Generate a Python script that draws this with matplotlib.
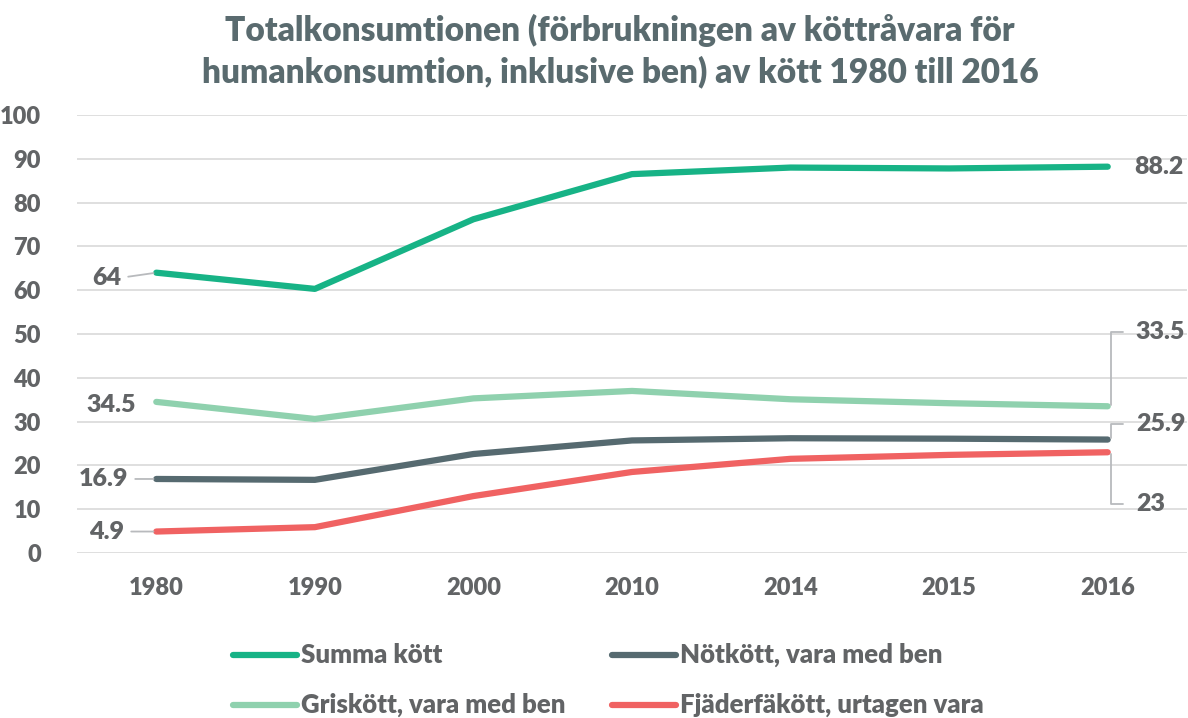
import matplotlib
matplotlib.use("Agg")
import matplotlib.pyplot as plt
from matplotlib.lines import Line2D

years = ["1980", "1990", "2000", "2010", "2014", "2015", "2016"]
summa = [64, 60.3, 76.2, 86.5, 88.0, 87.8, 88.2]
gris = [34.5, 30.6, 35.3, 37.0, 35.1, 34.2, 33.5]
not_ = [16.9, 16.7, 22.6, 25.7, 26.2, 26.1, 25.9]
fjader = [4.9, 5.9, 13.0, 18.5, 21.5, 22.4, 23.0]
series_names = ["Summa kött", "Nötkött, vara med ben", "Griskött, vara med ben", "Fjäderfäkött, urtagen vara"]
yticks = [0, 10, 20, 30, 40, 50, 60, 70, 80, 90, 100]

col_summa = "#17b386"
col_gris = "#8fd1ae"
col_not = "#566a70"
col_fj = "#f06262"
txt = "#626466"
title_col = "#5a6b6f"
grid_col = "#dcdcdc"
lead_col = "#b8babd"
W = 'heavy'

plt.rcParams['font.family'] = ['Lato', 'DejaVu Sans']

fig = plt.figure(figsize=(11.88, 7.18), dpi=100)
ax = fig.add_axes([77/1188, 1-553/718, 1110/1188, 438/718])

x = list(range(len(years)))
lw = 4.5
ax.plot(x, summa, color=col_summa, lw=lw, solid_capstyle='round', zorder=3)
ax.plot(x, gris, color=col_gris, lw=lw, solid_capstyle='round', zorder=3)
ax.plot(x, not_, color=col_not, lw=lw, solid_capstyle='round', zorder=3)
ax.plot(x, fjader, color=col_fj, lw=lw, solid_capstyle='round', zorder=3)

ax.set_xlim(-0.5, 6.5)
ax.set_ylim(0, 100)
ax.set_yticks(yticks)
ax.set_xticks(x)
ax.set_xticklabels(years)
ax.grid(axis='y', color=grid_col, lw=1.3)
ax.set_axisbelow(True)
for s in ax.spines.values():
    s.set_visible(False)
ax.tick_params(length=0, colors=txt, labelsize=17)
ax.tick_params(axis='y', pad=26)
ax.tick_params(axis='x', pad=17)
for lab in ax.get_xticklabels() + ax.get_yticklabels():
    lab.set_fontweight(W)
    lab.set_color(txt)

lab_kw = dict(fontsize=18, fontweight=W, color=txt, textcoords='offset pixels', va='center')
ap_straight = dict(arrowstyle='-', color=lead_col, lw=1.3, shrinkA=3, shrinkB=2, relpos=(1, 0.5))
# left labels
ax.annotate("64", xy=(0, summa[0]), xytext=(-35, -5), ha='right', arrowprops=ap_straight, **lab_kw)
ax.annotate("34.5", xy=(0, gris[0]), xytext=(-20, -3), ha='right', **lab_kw)
ax.annotate("16.9", xy=(0, not_[0]), xytext=(-28, 0), ha='right', arrowprops=ap_straight, **lab_kw)
ax.annotate("4.9", xy=(0, fjader[0]), xytext=(-32, 0), ha='right', arrowprops=ap_straight, **lab_kw)
# right labels
ax.annotate("88.2", xy=(6, summa[-1]), xytext=(27, 0), ha='left', **lab_kw)
ap_bent = dict(arrowstyle='-', color=lead_col, lw=1.3, shrinkA=7, shrinkB=1, relpos=(0, 0.5),
               connectionstyle="angle,angleA=0,angleB=90,rad=0")
ax.annotate("33.5", xy=(6.02, gris[-1]), xytext=(25, 74), ha='left', arrowprops=ap_bent, **lab_kw)
ax.annotate("25.9", xy=(6.02, not_[-1]), xytext=(25, 16), ha='left', arrowprops=ap_bent, **lab_kw)
ax.annotate("23", xy=(6.02, fjader[-1]), xytext=(25, -52), ha='left', arrowprops=ap_bent, **lab_kw)

fig.text(620/1188, 1-30/718, "Totalkonsumtionen (förbrukningen av köttråvara för",
         ha='center', va='center', fontsize=24, fontweight=W, color=title_col)
fig.text(620/1188, 1-72/718, "humankonsumtion, inklusive ben) av kött 1980 till 2016",
         ha='center', va='center', fontsize=24, fontweight=W, color=title_col)

# legend
leg_items = [(series_names[0], col_summa, 233, 655), (series_names[1], col_not, 612, 655),
             (series_names[2], col_gris, 233, 705), (series_names[3], col_fj, 612, 705)]
for name, c, x0, y0 in leg_items:
    fig.add_artist(Line2D([x0/1188, (x0+64)/1188], [1-y0/718, 1-y0/718], color=c, lw=lw,
                          solid_capstyle='round', transform=fig.transFigure))
    fig.text((x0+68)/1188, 1-y0/718, name, ha='left', va='center', fontsize=18.5,
             fontweight=W, color=txt)

fig.savefig("out.png", dpi=100)
